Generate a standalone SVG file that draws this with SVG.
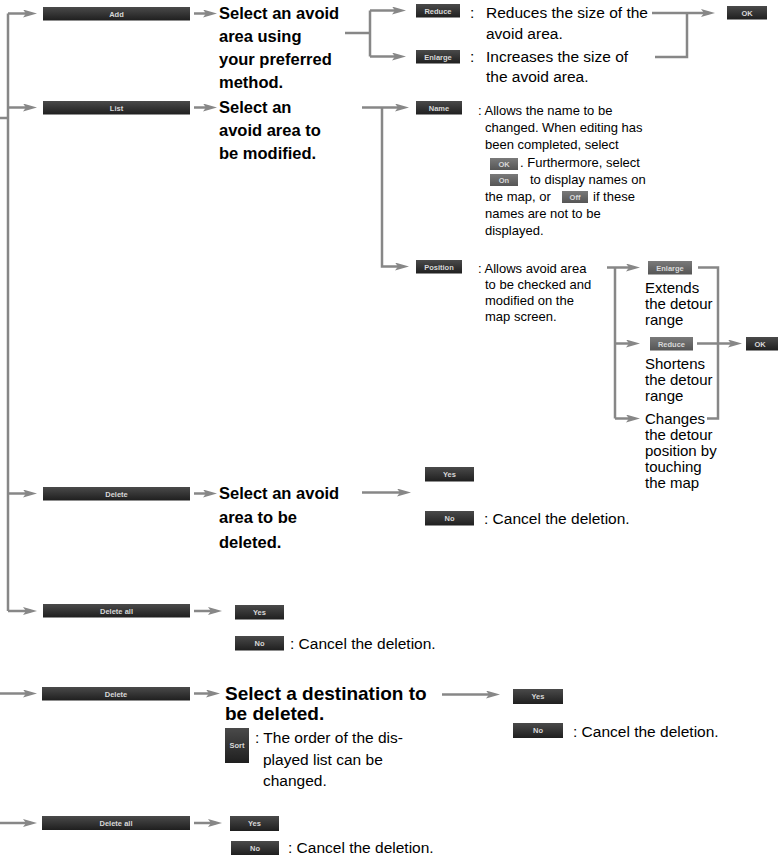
<svg xmlns="http://www.w3.org/2000/svg" width="778" height="857" viewBox="0 0 778 857">
<style>
.ln{stroke:#878787;stroke-width:2.5;fill:none}
.ar{marker-end:url(#ah)}
.bd{fill:url(#gd)}
.bm{fill:url(#gm)}
.bt{font-family:"Liberation Sans",Arial,sans-serif;font-size:7.5px;font-weight:bold;fill:#d8d8d8;text-anchor:middle}
.b{font-family:"Liberation Sans",Arial,sans-serif;font-weight:bold;font-size:16.5px;fill:#000}
.b2{font-family:"Liberation Sans",Arial,sans-serif;font-weight:bold;font-size:19px;fill:#000}
.t{font-family:"Liberation Sans",Arial,sans-serif;font-size:15.5px;fill:#000}
.s{font-family:"Liberation Sans",Arial,sans-serif;font-size:13px;fill:#000}
.m{font-family:"Liberation Sans",Arial,sans-serif;font-size:15px;fill:#000}
</style>
<defs>
<linearGradient id="gd" x1="0" y1="0" x2="0" y2="1"><stop offset="0" stop-color="#4a4a4a"/><stop offset="1" stop-color="#1f1f1f"/></linearGradient>
<linearGradient id="gm" x1="0" y1="0" x2="0" y2="1"><stop offset="0" stop-color="#7a7a7a"/><stop offset="1" stop-color="#555"/></linearGradient>
<marker id="ah" markerUnits="userSpaceOnUse" markerWidth="14" markerHeight="8" refX="8" refY="4" orient="auto"><path d="M0,0 L14,4 L0,8 L3,4 z" fill="#878787"/></marker>
</defs>

<g id="connectors">
<path class="ln" d="M0,118 H8 M8,13.5 V611"/>
<path class="ln ar" d="M8,13.5 H31"/>
<path class="ln ar" d="M8,107.5 H31"/>
<path class="ln ar" d="M8,493.5 H31"/>
<path class="ln ar" d="M8,611 H31"/>
<path class="ln ar" d="M194,13.5 H211"/>
<path class="ln ar" d="M194,107.5 H211"/>
<path class="ln ar" d="M194,493.5 H211"/>
<path class="ln ar" d="M194,611 H216"/>
<path class="ln" d="M345,33 H370 M370,10.5 V56.5"/>
<path class="ln ar" d="M370,10.5 H400"/>
<path class="ln ar" d="M370,56.5 H400"/>
<path class="ln" d="M652,13 H687 M655,57 H687 V13"/>
<path class="ln ar" d="M687,13 H709"/>
<path class="ln ar" d="M362,107.5 H403"/>
<path class="ln ar" d="M382,107.5 V266.5 H403"/>
<path class="ln ar" d="M607,267.5 H634"/>
<path class="ln" d="M615,267.5 V418.5"/>
<path class="ln ar" d="M615,343.5 H634"/>
<path class="ln ar" d="M615,418.5 H634"/>
<path class="ln" d="M698,267.5 H718 V418.5 H707 M697,343.5 H718"/>
<path class="ln ar" d="M718,343.5 H736"/>
<path class="ln ar" d="M362,492.5 H405"/>
<path class="ln ar" d="M0,693.5 H31"/>
<path class="ln ar" d="M194,693.5 H214"/>
<path class="ln ar" d="M442,694.5 H494"/>
<path class="ln ar" d="M0,823 H31"/>
<path class="ln ar" d="M194,823 H216"/>
</g>

<g id="add"><rect class="bd" x="43" y="7" width="147" height="13.5"/><text class="bt" x="116.5" y="16.5">Add</text></g>
<g id="add-text"><text class="b" x="219" y="19">Select an avoid</text><text class="b" x="219" y="42">area using</text><text class="b" x="219" y="65">your preferred</text><text class="b" x="219" y="88">method.</text></g>
<g id="reduce1"><rect class="bd" x="416" y="4" width="44" height="13.5"/><text class="bt" x="438" y="13.5">Reduce</text>
<text class="t" x="470" y="18">:</text><text class="t" x="486" y="18">Reduces the size of the</text><text class="t" x="486" y="39">avoid area.</text></g>
<g id="enlarge1"><rect class="bd" x="416" y="50" width="44" height="13.5"/><text class="bt" x="438" y="59.5">Enlarge</text>
<text class="t" x="470" y="62">:</text><text class="t" x="486" y="62">Increases the size of</text><text class="t" x="486" y="82">the avoid area.</text></g>
<g id="ok1"><rect class="bd" x="727" y="6" width="40" height="13.5"/><text class="bt" x="747" y="15.5">OK</text></g>

<g id="list"><rect class="bd" x="43" y="101" width="147" height="13.5"/><text class="bt" x="116.5" y="110.5">List</text></g>
<g id="list-text"><text class="b" x="219" y="113">Select an</text><text class="b" x="219" y="136">avoid area to</text><text class="b" x="219" y="159">be modified.</text></g>
<g id="name"><rect class="bd" x="416" y="101" width="46" height="13.5"/><text class="bt" x="439" y="110.5">Name</text>
<text class="s" x="478" y="115">: Allows the name to be</text>
<text class="s" x="485" y="132">changed. When editing has</text>
<text class="s" x="485" y="149">been completed, select</text>
<rect class="bm" x="490" y="158" width="28" height="12"/><text class="bt" x="504" y="166.5">OK</text>
<text class="s" x="520" y="167">. Furthermore, select</text>
<rect class="bm" x="490" y="174" width="28" height="12"/><text class="bt" x="504" y="182.5">On</text>
<text class="s" x="530" y="184">to display names on</text>
<text class="s" x="485" y="201">the map, or</text>
<rect class="bm" x="562" y="191" width="26" height="12"/><text class="bt" x="575" y="199.5">Off</text>
<text class="s" x="593" y="201">if these</text>
<text class="s" x="485" y="218">names are not to be</text>
<text class="s" x="485" y="235">displayed.</text></g>
<g id="position"><rect class="bd" x="416" y="260" width="46" height="13.5"/><text class="bt" x="439" y="269.5">Position</text>
<text class="s" x="478" y="273">: Allows avoid area</text>
<text class="s" x="485" y="289">to be checked and</text>
<text class="s" x="485" y="305">modified on the</text>
<text class="s" x="485" y="321">map screen.</text></g>
<g id="enlarge2"><rect class="bm" x="648" y="261" width="44" height="13.5"/><text class="bt" x="670" y="270.5">Enlarge</text>
<text class="m" x="645" y="293">Extends</text><text class="m" x="645" y="309">the detour</text><text class="m" x="645" y="325">range</text></g>
<g id="reduce2"><rect class="bm" x="650" y="337" width="43" height="13.5"/><text class="bt" x="671.5" y="346.5">Reduce</text>
<text class="m" x="645" y="369">Shortens</text><text class="m" x="645" y="385">the detour</text><text class="m" x="645" y="401">range</text></g>
<g id="changes"><text class="m" x="645" y="424">Changes</text><text class="m" x="645" y="440">the detour</text><text class="m" x="645" y="456">position by</text><text class="m" x="645" y="472">touching</text><text class="m" x="645" y="488">the map</text></g>
<g id="ok2"><rect class="bd" x="746" y="337" width="32" height="13.5"/><text class="bt" x="760" y="346.5">OK</text></g>

<g id="delete1"><rect class="bd" x="43" y="487" width="147" height="13.5"/><text class="bt" x="116.5" y="496.5">Delete</text></g>
<g id="delete1-text"><text class="b" x="219" y="499">Select an avoid</text><text class="b" x="219" y="523">area to be</text><text class="b" x="219" y="548">deleted.</text></g>
<g id="yes1"><rect class="bd" x="425" y="467" width="49" height="14.5"/><text class="bt" x="449.5" y="477">Yes</text></g>
<g id="no1"><rect class="bd" x="425" y="511" width="49" height="14.5"/><text class="bt" x="449.5" y="521">No</text>
<text class="t" x="484" y="524">:  Cancel the deletion.</text></g>

<g id="deleteall1"><rect class="bd" x="43" y="604" width="147" height="13.5"/><text class="bt" x="116.5" y="613.5">Delete all</text></g>
<g id="yes2"><rect class="bd" x="235" y="605" width="49" height="14.5"/><text class="bt" x="259.5" y="615">Yes</text></g>
<g id="no2"><rect class="bd" x="235" y="636" width="49" height="14.5"/><text class="bt" x="259.5" y="646">No</text>
<text class="t" x="290" y="649">:  Cancel the deletion.</text></g>

<g id="delete2"><rect class="bd" x="42" y="687" width="148" height="13.5"/><text class="bt" x="116" y="696.5">Delete</text></g>
<g id="delete2-text"><text class="b2" x="225" y="700">Select a destination to</text><text class="b2" x="225" y="720">be deleted.</text></g>
<g id="sort"><rect class="bd" x="225" y="728" width="24" height="35"/><text class="bt" x="237" y="748">Sort</text>
<text class="t" x="255" y="743">: The order of the dis-</text>
<text class="t" x="263" y="765">played list can be</text>
<text class="t" x="263" y="786">changed.</text></g>
<g id="yes3"><rect class="bd" x="513" y="689" width="50" height="15"/><text class="bt" x="538" y="699">Yes</text></g>
<g id="no3"><rect class="bd" x="513" y="723" width="50" height="15"/><text class="bt" x="538" y="733">No</text>
<text class="t" x="573" y="737">: Cancel the deletion.</text></g>

<g id="deleteall2"><rect class="bd" x="42" y="816" width="148" height="14"/><text class="bt" x="116" y="826">Delete all</text></g>
<g id="yes4"><rect class="bd" x="230" y="816" width="49" height="15"/><text class="bt" x="254.5" y="826">Yes</text></g>
<g id="no4"><rect class="bd" x="231" y="841" width="48" height="14"/><text class="bt" x="255" y="851">No</text>
<text class="t" x="288" y="853">:  Cancel the deletion.</text></g>
</svg>
